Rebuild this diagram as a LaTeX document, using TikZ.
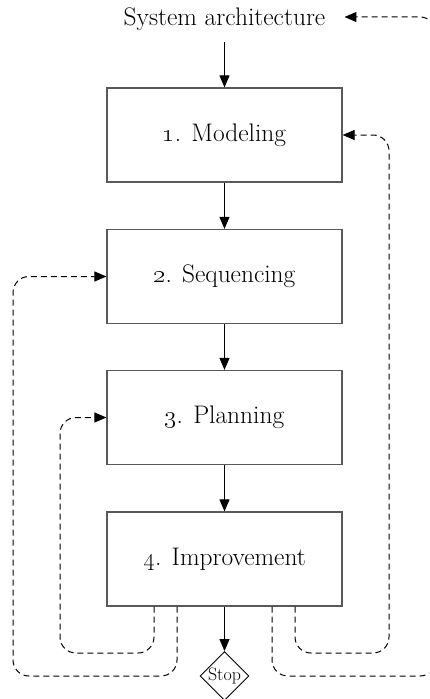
\RequirePackage{fix-cm}
\documentclass[tikz,border=0pt]{standalone}
\usetikzlibrary{arrows.meta,shapes.geometric,calc}
\begin{document}
\begin{tikzpicture}[x=1bp,y=-1bp,
  stage/.style={draw=black!65, line width=1.2bp, minimum width=235bp,
    minimum height=94bp, inner sep=0pt, font=\fontsize{25.5}{30}\selectfont},
  flow/.style={-{Triangle[length=12bp,width=10bp]}, line width=0.9bp},
  loopback/.style={flow, line width=1bp, dash pattern=on 6bp off 4bp,
    rounded corners=16bp, draw=black}]
\useasboundingbox (0,0) rectangle (429,699);
\clip (0,0) rectangle (429,699);

% title and the four stages
\node[font=\fontsize{25.5}{30}\selectfont, inner xsep=19bp, inner ysep=11bp,
  text height=17bp, text depth=5bp, anchor=base] (sys) at (224.5,26) {System architecture};
\node[stage] (mod) at (224.5,135)   {\oldstylenums{1}. Modeling};
\node[stage] (seq) at (224.5,276.5) {\oldstylenums{2}. Sequencing};
\node[stage] (pla) at (224.5,417.5) {\oldstylenums{3}. Planning};
\node[stage] (imp) at (224.5,559)   {\oldstylenums{4}. Improvement};
\node[draw, shape=diamond, aspect=1, inner sep=0pt, line width=0.9bp,
  minimum width=47bp, minimum height=46bp,
  font=\fontsize{18}{20}\selectfont] (stop) at (224.5,676) {Stop};

% main flow
\draw[flow] (sys) -- (mod);
\draw[flow] (mod) -- (seq);
\draw[flow] (seq) -- (pla);
\draw[flow] (pla) -- (imp);
\draw[flow] (imp) -- (stop);

% feedback loops from the improvement stage
\draw[loopback] ($(imp.south)+(-47.5,0)$) |- (13,676) |- (seq.west);
\draw[loopback] ($(imp.south)+(-70.5,0)$) |- (60,653) |- (pla.west);
\draw[loopback] ($(imp.south)+(70.5,0)$) |- (389,653) |- (mod.east);
\draw[loopback] ($(imp.south)+(47.5,0)$) |- (436,676) |- ($(sys.east)+(0,-3)$);
\end{tikzpicture}
\end{document}
